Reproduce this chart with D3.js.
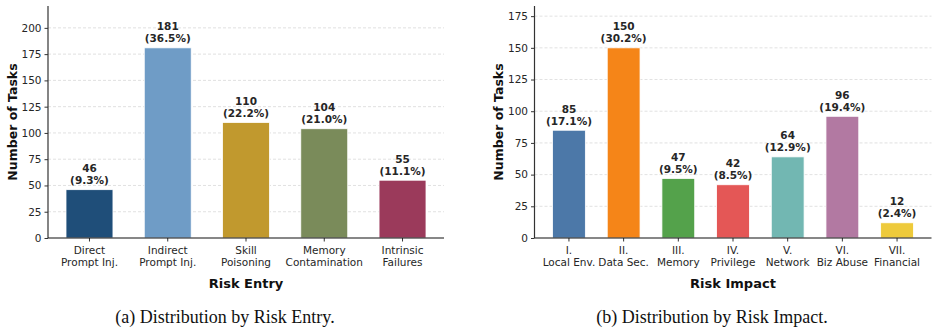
<!DOCTYPE html>
<html>
<head>
<meta charset="utf-8">
<script src="https://cdn.jsdelivr.net/npm/d3@7"></script>
<style>
  body { margin: 0; background: #fff; }
  svg text { font-family: "DejaVu Sans", sans-serif; }
  .grid line { stroke: #d9d9d9; stroke-dasharray: 3,2; stroke-width: 0.8; }
  svg text.caption { font-family: "Liberation Serif", "Times New Roman", serif; }
</style>
</head>
<body>
<div id="chart"></div>
<script>
// Risk entry panel
const entryLabels = [['Direct', 'Prompt Inj.'], ['Indirect', 'Prompt Inj.'], ['Skill', 'Poisoning'], ['Memory', 'Contamination'], ['Intrinsic', 'Failures']];
const entryValues = [46, 181, 110, 104, 55];
const entryPct = ['9.3%', '36.5%', '22.2%', '21.0%', '11.1%'];
const entryColors = ['#1F4E79', '#6F9CC6', '#C1992E', '#7A8B5A', '#9B3A5B'];
const entryTicks = [0, 25, 50, 75, 100, 125, 150, 175, 200];

// Risk impact panel
const impactLabels = [['I.', 'Local Env.'], ['II.', 'Data Sec.'], ['III.', 'Memory'], ['IV.', 'Privilege'], ['V.', 'Network'], ['VI.', 'Biz Abuse'], ['VII.', 'Financial']];
const impactValues = [85, 150, 47, 42, 64, 96, 12];
const impactPct = ['17.1%', '30.2%', '9.5%', '8.5%', '12.9%', '19.4%', '2.4%'];
const impactColors = ['#4C78A8', '#F58518', '#54A24B', '#E45756', '#72B7B2', '#B279A2', '#EECA3B'];
const impactTicks = [0, 25, 50, 75, 100, 125, 150, 175];

const svg = d3.select('#chart').append('svg')
  .attr('width', 938)
  .attr('height', 332);

function drawPanel(opts) {
  const { left, right, top, bottom, labels, values, pct, colors, ticks, xTitle, caption, captionX } = opts;
  const n = values.length;
  const g = svg.append('g');

  const x = d3.scaleBand()
    .domain(d3.range(n))
    .range([left, right])
    .paddingInner(0.4)
    .paddingOuter(0.05 * (n - 0.4));

  const y = d3.scaleLinear()
    .domain([0, d3.max(values) * 1.22])
    .range([bottom, top]);

  // grid lines
  g.append('g')
    .attr('class', 'grid')
    .selectAll('line')
    .data(ticks.filter(t => t > 0))
    .enter()
    .append('line')
    .attr('x1', left)
    .attr('x2', right)
    .attr('y1', d => y(d))
    .attr('y2', d => y(d));

  // bars
  g.selectAll('.bar')
    .data(values)
    .enter()
    .append('rect')
    .attr('class', 'bar')
    .attr('x', (d, i) => x(i))
    .attr('width', x.bandwidth())
    .attr('y', d => y(d))
    .attr('height', d => y(0) - y(d))
    .attr('fill', (d, i) => colors[i])
    .attr('stroke', '#fff')
    .attr('stroke-width', 0.8);

  // value labels
  const lab = g.selectAll('.val')
    .data(values)
    .enter()
    .append('text')
    .attr('class', 'val')
    .attr('text-anchor', 'middle')
    .attr('font-size', 10.5)
    .attr('font-weight', 'bold')
    .attr('fill', '#262626');
  lab.append('tspan')
    .attr('x', (d, i) => x(i) + x.bandwidth() / 2)
    .attr('y', d => y(d) - 17.5)
    .text(d => d);
  lab.append('tspan')
    .attr('x', (d, i) => x(i) + x.bandwidth() / 2)
    .attr('y', d => y(d) - 5.5)
    .text((d, i) => `(${pct[i]})`);

  // y axis
  const yAxis = g.append('g')
    .attr('transform', `translate(${left},0)`)
    .call(d3.axisLeft(y).tickValues(ticks).tickSize(3.5).tickPadding(3));
  yAxis.select('.domain').remove();
  yAxis.selectAll('text').attr('font-size', 10.5).attr('fill', '#262626').attr('font-family', 'DejaVu Sans');
  yAxis.selectAll('line').attr('stroke', '#333');
  g.append('line')
    .attr('x1', left).attr('x2', left)
    .attr('y1', top).attr('y2', bottom)
    .attr('stroke', '#333').attr('stroke-width', 1.2);

  // x axis
  const xAxis = g.append('g')
    .attr('transform', `translate(0,${bottom})`)
    .call(d3.axisBottom(x).tickSize(3.5).tickFormat(''));
  xAxis.select('.domain').remove();
  xAxis.selectAll('line').attr('stroke', '#333');
  g.append('line')
    .attr('x1', left).attr('x2', right)
    .attr('y1', bottom).attr('y2', bottom)
    .attr('stroke', '#111').attr('stroke-width', 1.2);

  const xl = g.selectAll('.xl')
    .data(labels)
    .enter()
    .append('text')
    .attr('class', 'xl')
    .attr('text-anchor', 'middle')
    .attr('font-size', 10.5)
    .attr('fill', '#262626');
  xl.append('tspan')
    .attr('x', (d, i) => x(i) + x.bandwidth() / 2)
    .attr('y', bottom + 16)
    .text(d => d[0]);
  xl.append('tspan')
    .attr('x', (d, i) => x(i) + x.bandwidth() / 2)
    .attr('y', bottom + 27.7)
    .text(d => d[1]);

  // axis titles
  g.append('text')
    .attr('x', (left + right) / 2)
    .attr('y', bottom + 50)
    .attr('text-anchor', 'middle')
    .attr('font-size', 13)
    .attr('font-weight', 'bold')
    .attr('fill', '#111')
    .text(xTitle);

  g.append('text')
    .attr('transform', `translate(${opts.yTitleX},${(top + bottom) / 2}) rotate(-90)`)
    .attr('text-anchor', 'middle')
    .attr('font-size', 12.5)
    .attr('font-weight', 'bold')
    .attr('fill', '#111')
    .text('Number of Tasks');

  g.append('text')
    .attr('class', 'caption')
    .attr('x', captionX)
    .attr('y', 322.5)
    .attr('text-anchor', 'middle')
    .attr('font-size', 18)
    .attr('fill', '#111')
    .text(caption);
}

drawPanel({
  left: 48, right: 444, top: 6, bottom: 238,
  labels: entryLabels, values: entryValues, pct: entryPct, colors: entryColors, ticks: entryTicks,
  xTitle: 'Risk Entry', caption: '(a) Distribution by Risk Entry.', captionX: 225, yTitleX: 17
});

drawPanel({
  left: 534.5, right: 931.5, top: 6, bottom: 238,
  labels: impactLabels, values: impactValues, pct: impactPct, colors: impactColors, ticks: impactTicks,
  xTitle: 'Risk Impact', caption: '(b) Distribution by Risk Impact.', captionX: 712, yTitleX: 502.5
});
</script>
</body>
</html>
